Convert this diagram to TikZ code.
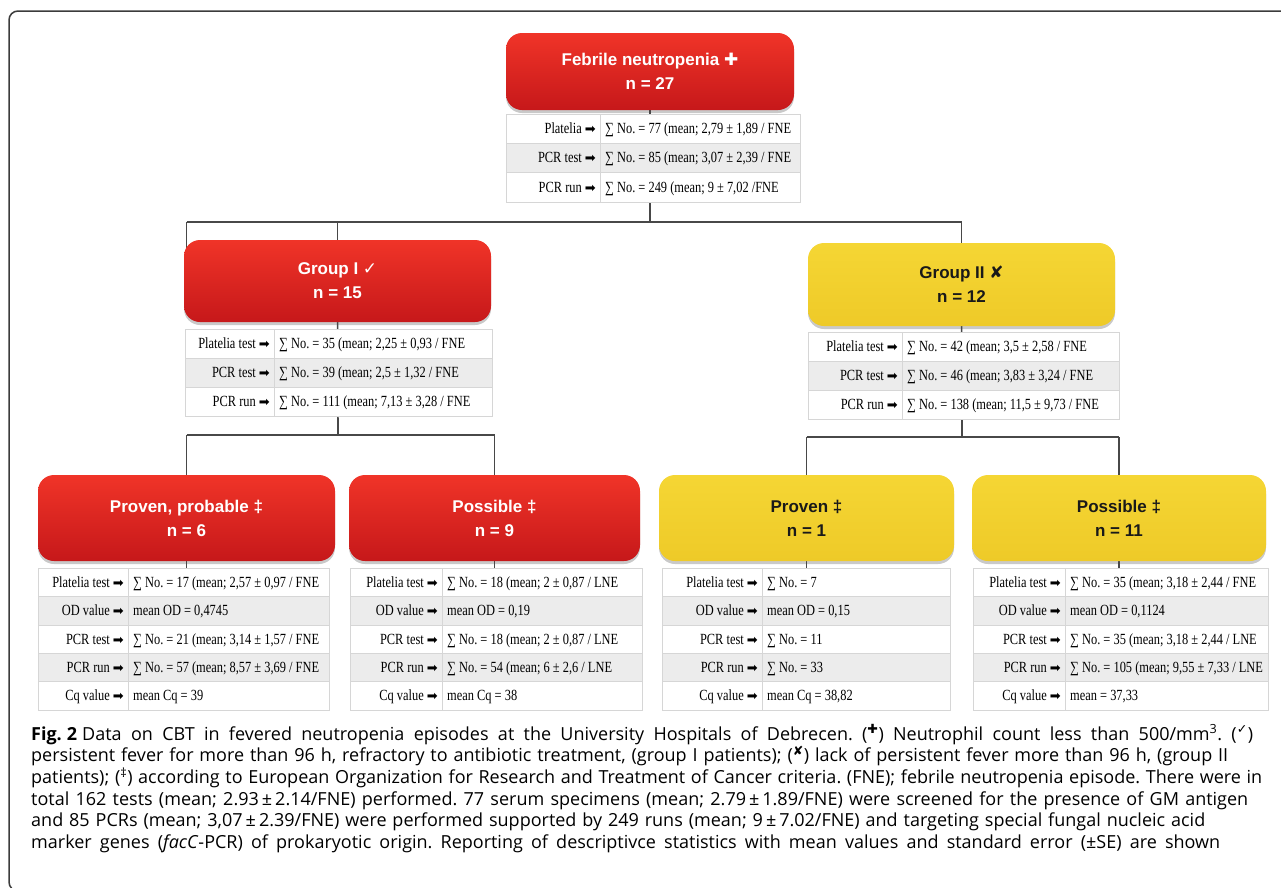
\documentclass[tikz,border=0pt]{standalone}
\usepackage{fontspec}
\setmainfont{Open Sans}
\newfontfamily\boxfont{Liberation Sans}
\newfontfamily\tabfont[FakeStretch=0.8]{Liberation Serif}
\newfontfamily\symfont{DejaVu Sans}
\usetikzlibrary{shadows,backgrounds}

\definecolor{boxred}{RGB}{240,52,40}
\definecolor{boxreddark}{RGB}{198,24,26}
\definecolor{boxyellow}{RGB}{245,214,52}
\definecolor{boxyellowdark}{RGB}{238,202,40}
\definecolor{rowgrey}{RGB}{236,236,236}
\definecolor{gridgrey}{RGB}{214,214,214}
\definecolor{treegrey}{RGB}{72,72,72}
\definecolor{framegrey}{RGB}{60,60,60}

\newcommand{\sym}[1]{{\symfont\mdseries #1}}
\newcommand{\arr}{{\symfont\fontsize{13}{13}\selectfont ➡}}
\newcommand{\capline}[2]{\makebox[#1pt][s]{#2}}
\frenchspacing

\tikzset{
  groupbox/.style={rounded corners=16pt, inner sep=0pt, align=center,
    font=\boxfont\bfseries\fontsize{17}{24}\selectfont,
    drop shadow={shadow xshift=0pt, shadow yshift=-3pt, opacity=0.3, fill=black!70}},
  redbox/.style={groupbox, top color=boxred, bottom color=boxreddark, text=white},
  yellowbox/.style={groupbox, top color=boxyellow, bottom color=boxyellowdark, text=black!90},
  treeline/.style={draw=treegrey, line width=1.6pt},
  rowlabel/.style={anchor=base east, inner sep=0pt, font=\tabfont\fontsize{15.5}{17}\selectfont},
  rowvalue/.style={anchor=base west, inner sep=0pt, font=\tabfont\fontsize{15.5}{17}\selectfont},
  captext/.style={anchor=base west, inner sep=0pt, font=\fontsize{18}{21.7}\selectfont},
}

% #1 name, #2 left, #3 divider, #4 right, #5 top, #6 row height, #7 rows
\newcommand{\datatable}[7]{
  \coordinate (#1-top) at ({(#2+#4)/2}, #5);
  \foreach \lab/\val [count=\i] in {#7} {
    \ifodd\i \def\rowfill{white}\else \def\rowfill{rowgrey}\fi
    \pgfmathsetmacro{\yt}{#5+(\i-1)*#6}
    \pgfmathsetmacro{\yb}{#5+\i*#6}
    \pgfmathsetmacro{\ym}{(\yt+\yb)/2+5}
    \draw [draw=gridgrey, fill=\rowfill] (#2, \yt) rectangle (#4, \yb);
    \draw [gridgrey] (#3, \yt) -- (#3, \yb);
    \draw ({#3-4}, \ym) node [rowlabel] (#1-l\i) {\lab\ \arr};
    \draw ({#3+5}, \ym) node [rowvalue] (#1-v\i) {\val};
  }
}

\begin{document}
\begin{tikzpicture}[x=1pt, y=-1pt]
  \path [use as bounding box] (0, 0) rectangle (1281, 887);
  \clip (0, 0) rectangle (1281, 887);
  \draw [framegrey, line width=1.5pt, rounded corners=9pt] (1300, 891) -- (9, 891) -- (9, 11) -- (1300, 11);

  % boxes
  \draw (650, 71.5) node [redbox, minimum width=288pt, minimum height=77pt] (fn) {Febrile neutropenia \sym{✚}\\n = 27};
  \draw (337.5, 281) node [redbox, minimum width=307pt, minimum height=82pt] (g1) {Group I \sym{✓}\\n = 15};
  \draw (961.5, 284.5) node [yellowbox, minimum width=307pt, minimum height=83pt] (g2) {Group II \sym{✘}\\n = 12};
  \draw (186.5, 518) node [redbox, minimum width=297pt, minimum height=86pt] (pp) {Proven, probable ‡\\n = 6};
  \draw (494.5, 518) node [redbox, minimum width=291pt, minimum height=86pt] (pos1) {Possible ‡\\n = 9};
  \draw (806.5, 518) node [yellowbox, minimum width=295pt, minimum height=86pt] (pr) {Proven ‡\\n = 1};
  \draw (1119, 518) node [yellowbox, minimum width=294pt, minimum height=86pt] (pos2) {Possible ‡\\n = 11};

  % tables
  \datatable{fnt}{506}{600}{800}{114}{29.3}{
    Platelia/{∑ No. = 77 (mean; 2,79 ± 1,89 / FNE},
    PCR test/{∑ No. = 85 (mean; 3,07 ± 2,39 / FNE},
    PCR run/{∑ No. = 249 (mean; 9 ± 7,02 /FNE}}
  \datatable{g1t}{185}{274}{492}{329}{29}{
    Platelia test/{∑ No. = 35 (mean; 2,25 ± 0,93 / FNE},
    PCR test/{∑ No. = 39 (mean; 2,5 ± 1,32 / FNE},
    PCR run/{∑ No. = 111 (mean; 7,13 ± 3,28 / FNE}}
  \datatable{g2t}{808}{902}{1119}{332}{29}{
    Platelia test/{∑ No. = 42 (mean; 3,5 ± 2,58 / FNE},
    PCR test/{∑ No. = 46 (mean; 3,83 ± 3,24 / FNE},
    PCR run/{∑ No. = 138 (mean; 11,5 ± 9,73 / FNE}}
  \datatable{ppt}{38}{128}{329}{568}{28.4}{
    Platelia test/{∑ No. = 17 (mean; 2,57 ± 0,97 / FNE},
    OD value/{mean OD = 0,4745},
    PCR test/{∑ No. = 21 (mean; 3,14 ± 1,57 / FNE},
    PCR run/{∑ No. = 57 (mean; 8,57 ± 3,69 / FNE},
    Cq value/{mean Cq = 39}}
  \datatable{pos1t}{350}{442}{642}{568}{28.4}{
    Platelia test/{∑ No. = 18 (mean; 2 ± 0,87 / LNE},
    OD value/{mean OD = 0,19},
    PCR test/{∑ No. = 18 (mean; 2 ± 0,87 / LNE},
    PCR run/{∑ No. = 54 (mean; 6 ± 2,6 / LNE},
    Cq value/{mean Cq = 38}}
  \datatable{prt}{662}{762}{950}{568}{28.4}{
    Platelia test/{∑ No. = 7},
    OD value/{mean OD = 0,15},
    PCR test/{∑ No. = 11},
    PCR run/{∑ No. = 33},
    Cq value/{mean Cq = 38,82}}
  \datatable{pos2t}{973}{1065}{1268}{568}{28.4}{
    Platelia test/{∑ No. = 35 (mean; 3,18 ± 2,44 / FNE},
    OD value/{mean OD = 0,1124},
    PCR test/{∑ No. = 35 (mean; 3,18 ± 2,44 / LNE},
    PCR run/{∑ No. = 105 (mean; 9,55 ± 7,33 / LNE},
    Cq value/{mean = 37,33}}

  % tree lines
  \coordinate (s1) at (650, 222);
  \coordinate (s2) at (338, 435);
  \coordinate (s3) at (962, 437);
  \begin{scope}[on background layer]
    \draw [treeline] (fn.center) -- (s1);
    \draw [treeline] (s1 -| pp) -- (s1 -| g2);
    \draw [treeline] (s1 -| pp) -- (pp |- g1.center);
    \draw [treeline] (s1 -| g1) -- (g1.center);
    \draw [treeline] (s1 -| g2) -- (g2.center);
    \draw [treeline] (g1.center) -- (s2);
    \draw [treeline] (s2 -| pp) -- (s2 -| pos1);
    \draw [treeline] (s2 -| pp) -- (pp |- ppt-top);
    \draw [treeline] (s2 -| pos1) -- (pos1 |- pos1t-top);
    \draw [treeline] (g2.center) -- (s3);
    \draw [treeline] (s3 -| pr) -- (s3 -| pos2);
    \draw [treeline] (s3 -| pr) -- (pr |- prt-top);
    \draw [treeline] (s3 -| pos2) -- (pos2 |- pos2t-top);
  \end{scope}

  % caption
  \draw (31, 740) node [captext] (cap1) {\capline{1222}{\textbf{Fig.\hspace{0.28em}2}\hspace{0.28em}Data on CBT in fevered neutropenia episodes at the University Hospitals of Debrecen. (\textsuperscript{\sym{✚}}) Neutrophil count less than 500/mm\textsuperscript{3}. (\textsuperscript{\sym{✓}})}};
  \draw (31, 761.7) node [captext] (cap2) {\capline{1197}{persistent fever for more than 96 h, refractory to antibiotic treatment, (group I patients); (\textsuperscript{\sym{✘}}) lack of persistent fever more than 96 h, (group II}};
  \draw (31, 783.4) node [captext] (cap3) {\capline{1231}{patients); (\textsuperscript{‡}) according to European Organization for Research and Treatment of Cancer criteria. (FNE); febrile neutropenia episode. There were in}};
  \draw (31, 805.1) node [captext] (cap4) {\capline{1217}{total 162 tests (mean; 2.93\,±\,2.14/FNE) performed. 77 serum specimens (mean; 2.79\,±\,1.89/FNE) were screened for the presence of GM antigen}};
  \draw (31, 826.8) node [captext] (cap5) {\capline{1174}{and 85 PCRs (mean; 3,07\,±\,2.39/FNE) were performed supported by 249 runs (mean; 9\,±\,7.02/FNE) and targeting special fungal nucleic acid}};
  \draw (31, 848.5) node [captext] (cap6) {\capline{1189}{marker genes (\textit{facC}-PCR) of prokaryotic origin. Reporting of descriptivce statistics with mean values and standard error (±SE) are shown}};
\end{tikzpicture}
\end{document}
